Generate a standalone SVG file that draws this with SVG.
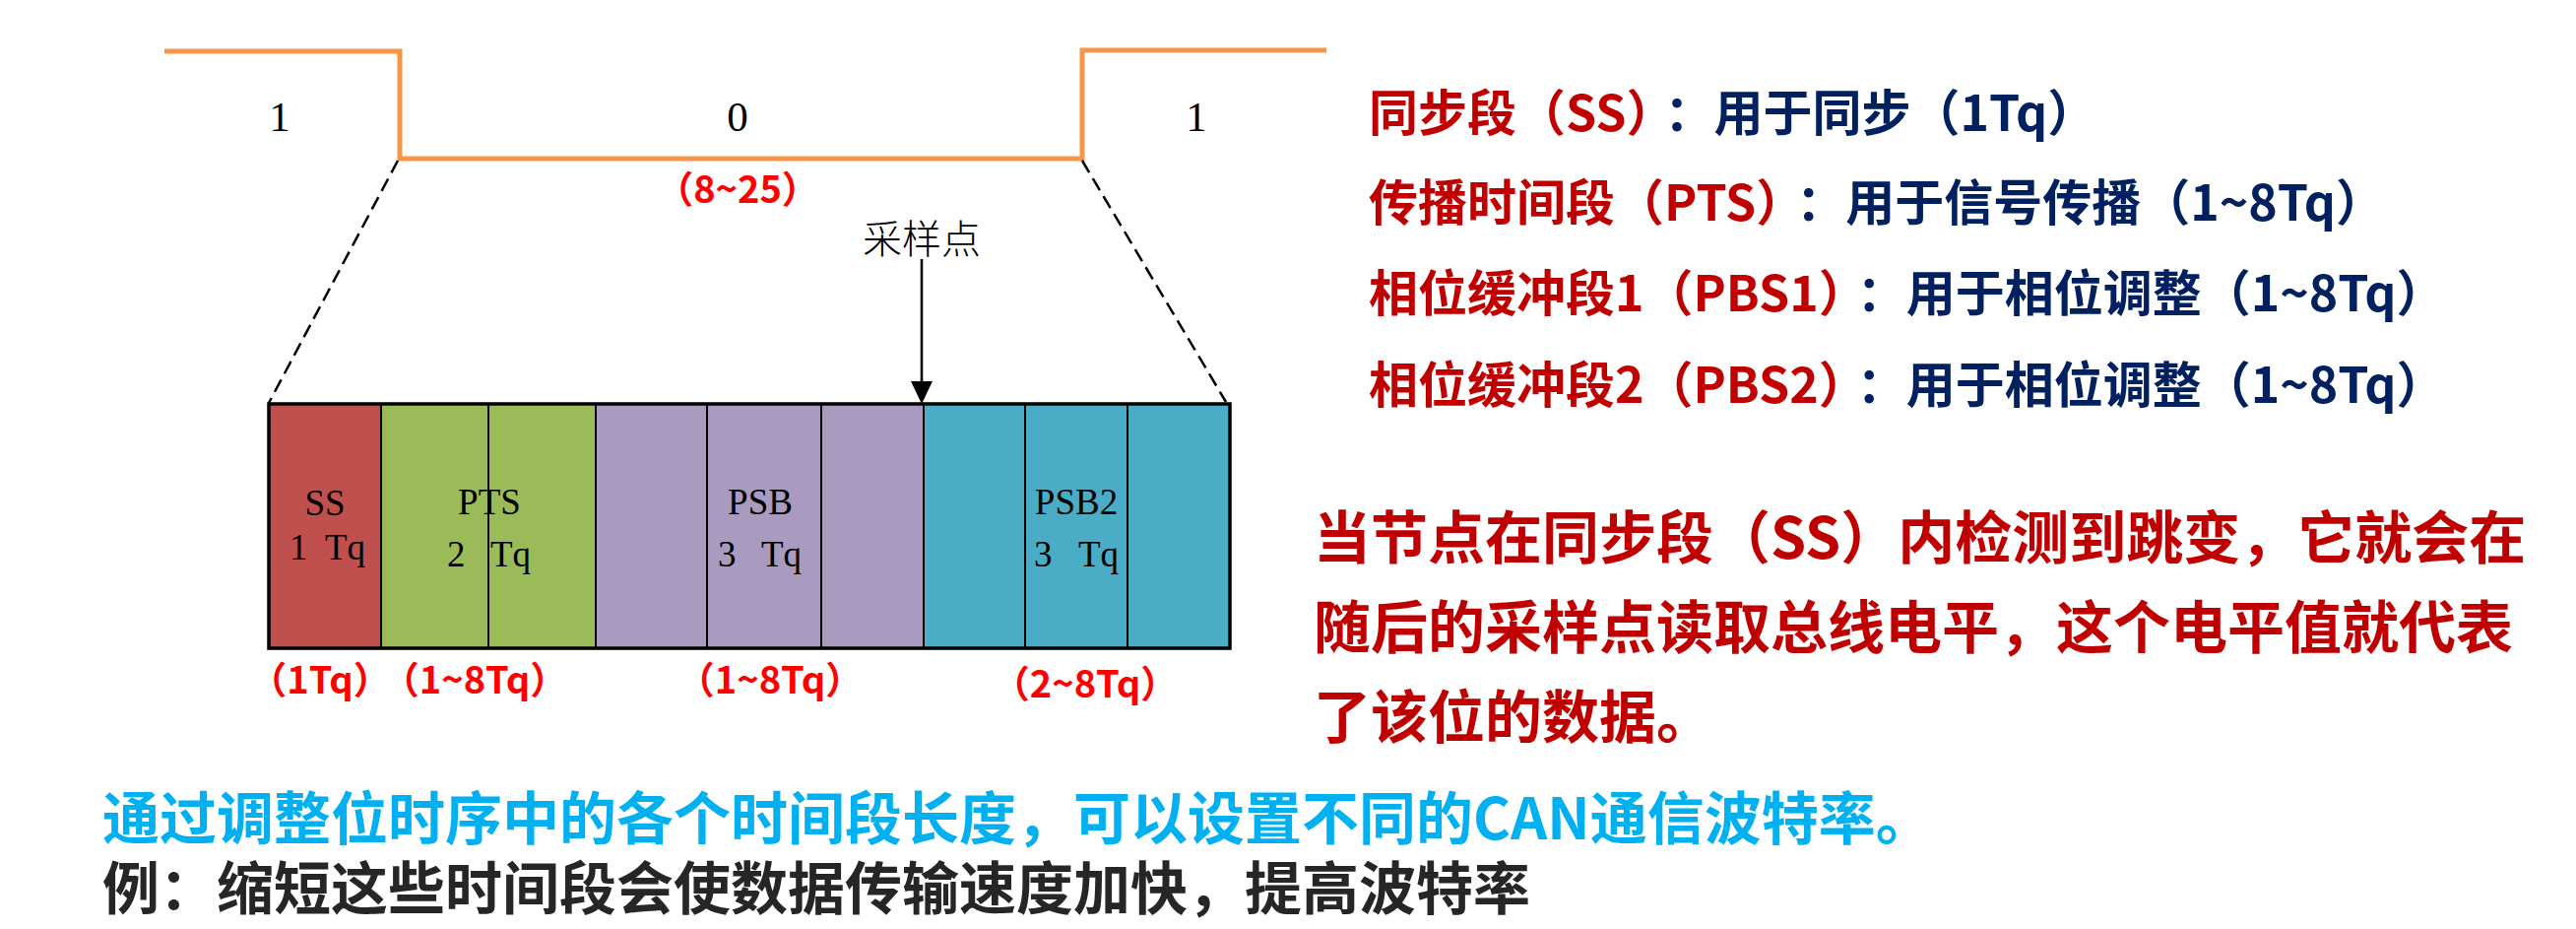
<svg xmlns="http://www.w3.org/2000/svg" width="2616" height="943" viewBox="0 0 2616 943">
<defs>
<style>
.serif{font-family:"Liberation Serif","Times New Roman",serif;fill:#000}
.lbl{font-family:"Noto Sans CJK SC","Liberation Sans",sans-serif;fill:#FF0000;font-weight:700}
.cjk{font-family:"Noto Sans CJK SC","Liberation Sans",sans-serif;font-weight:700}
.red{fill:#C00000}
.navy{fill:#002060}
.cell{stroke:#000;stroke-width:2}
</style>
</defs>
<rect width="2616" height="943" fill="#fff"/>
<g id="waveform">
<path d="M167,52 H406 V161 H1099 V51 H1347" fill="none" stroke="#F79646" stroke-width="5"/>
<text class="serif" x="284" y="133" font-size="43" text-anchor="middle">1</text>
<text class="serif" x="749" y="133" font-size="43" text-anchor="middle">0</text>
<text class="serif" x="1215" y="133" font-size="43" text-anchor="middle">1</text>
<text class="lbl" x="749" y="206" font-size="38" text-anchor="middle">（8~25）</text>
</g>
<g id="connectors">
<path d="M404,163 L273,409" fill="none" stroke="#000" stroke-width="2.5" stroke-dasharray="14 7"/>
<path d="M1099,163 L1245,408" fill="none" stroke="#000" stroke-width="2.5" stroke-dasharray="14 7"/>
<line x1="936" y1="263" x2="936" y2="390" stroke="#000" stroke-width="2.5"/>
<polygon points="925,387 947,387 936,410" fill="#000"/>
</g>
<g id="sample-point">
<text x="936" y="257" font-size="40" text-anchor="middle" font-family="Noto Sans CJK SC, sans-serif" font-weight="300" fill="#000">采样点</text>
</g>
<g id="seg-ss">
<rect class="cell" x="273" y="410" width="114" height="248" fill="#C0504D"/>
<text class="serif" x="330" y="523" font-size="37" text-anchor="middle">SS</text>
<text class="serif" y="568" font-size="37"><tspan x="294">1</tspan> <tspan x="330">Tq</tspan></text>
<text class="lbl" x="325" y="704" font-size="38" text-anchor="middle">（1Tq）</text>
</g>
<g id="seg-pts">
<rect class="cell" x="387" y="410" width="109" height="248" fill="#9BBB59"/>
<rect class="cell" x="496" y="410" width="109" height="248" fill="#9BBB59"/>
<text class="serif" x="497" y="522" font-size="37" text-anchor="middle">PTS</text>
<text class="serif" y="575" font-size="37"><tspan x="454">2</tspan> <tspan x="498">Tq</tspan></text>
<text class="lbl" x="482" y="704" font-size="38" text-anchor="middle">（1~8Tq）</text>
</g>
<g id="seg-psb">
<rect class="cell" x="605" y="410" width="113" height="248" fill="#A99BBF"/>
<rect class="cell" x="718" y="410" width="116" height="248" fill="#A99BBF"/>
<rect class="cell" x="834" y="410" width="104" height="248" fill="#A99BBF"/>
<text class="serif" x="772" y="522" font-size="37" text-anchor="middle">PSB</text>
<text class="serif" y="575" font-size="37"><tspan x="729">3</tspan> <tspan x="773">Tq</tspan></text>
<text class="lbl" x="782" y="704" font-size="38" text-anchor="middle">（1~8Tq）</text>
</g>
<g id="seg-psb2">
<rect class="cell" x="938" y="410" width="103" height="248" fill="#4BACC6"/>
<rect class="cell" x="1041" y="410" width="104" height="248" fill="#4BACC6"/>
<rect class="cell" x="1145" y="410" width="104" height="248" fill="#4BACC6"/>
<text class="serif" x="1093" y="522" font-size="37" text-anchor="middle">PSB2</text>
<text class="serif" y="575" font-size="37"><tspan x="1050">3</tspan> <tspan x="1095">Tq</tspan></text>
<text class="lbl" x="1102" y="708" font-size="38" text-anchor="middle">（2~8Tq）</text>
</g>
<g id="bit-frame">
<rect x="273" y="410" width="976" height="248" fill="none" stroke="#000" stroke-width="3.5"/>
</g>
<g id="legend">
<text class="cjk" x="1390" y="133" font-size="50"><tspan class="red">同步段（SS）</tspan><tspan class="navy" dx="14">：用于同步（1Tq）</tspan></text>
<text class="cjk" x="1390" y="224" font-size="50"><tspan class="red">传播时间段（PTS）</tspan><tspan class="navy" dx="16">：用于信号传播（1~8Tq）</tspan></text>
<text class="cjk" x="1390" y="316" font-size="50"><tspan class="red">相位缓冲段1（PBS1）</tspan><tspan class="navy" dx="14">：用于相位调整（1~8Tq）</tspan></text>
<text class="cjk" x="1390" y="409" font-size="50"><tspan class="red">相位缓冲段2（PBS2）</tspan><tspan class="navy" dx="14">：用于相位调整（1~8Tq）</tspan></text>
</g>
<g id="note">
<text class="cjk red" x="1334" y="567" font-size="58">当节点在同步段（SS）内检测到跳变，它就会在</text>
<text class="cjk red" x="1334" y="658" font-size="58">随后的采样点读取总线电平，这个电平值就代表</text>
<text class="cjk red" x="1334" y="749" font-size="58">了该位的数据。</text>
</g>
<g id="footer">
<text class="cjk" x="104" y="852" font-size="58" fill="#00B0F0">通过调整位时序中的各个时间段长度，可以设置不同的CAN通信波特率。</text>
<text class="cjk" x="104" y="923" font-size="58" fill="#262626">例：缩短这些时间段会使数据传输速度加快，提高波特率</text>
</g>
</svg>
